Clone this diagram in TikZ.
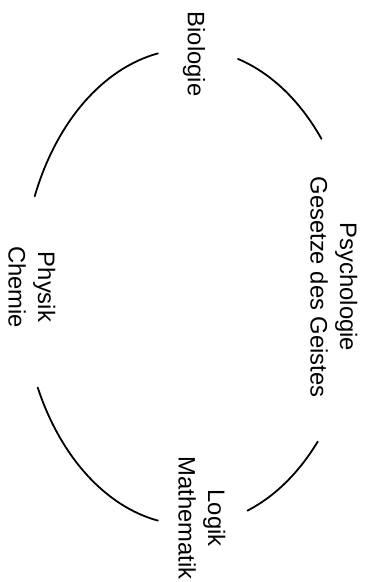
\documentclass[tikz,border=0pt]{standalone}
\usepackage{fontspec}
\setmainfont{Liberation Sans}
\usetikzlibrary{calc}
\begin{document}
\begin{tikzpicture}[x=1pt,y=1pt,
  lbl/.style={rotate=-90, align=center, font=\fontsize{23.8}{29.5}\selectfont, inner sep=0pt},
  arcline/.style={line width=1.8pt, line cap=round}]
\useasboundingbox (0,0) rectangle (366,-582);
\coordinate (c) at (190,-287);
\node[lbl] (bio) at (194,-54) {Biologie};
\node[lbl] (psy) at (334,-287) {Psychologie\\Gesetze des Geistes};
\node[lbl] (phy) at (32,-287) {Physik\\Chemie};
\node[lbl] (log) at (202,-518) {Logik\\Mathematik};
\coordinate (tl) at ($(c)+(101:168pt and 238pt)$);
\coordinate (tr) at ($(c)+(73.4:168pt and 238pt)$);
\coordinate (bl) at ($(c)+(205:168pt and 238pt)$);
\coordinate (br) at ($(c)+(319.5:168pt and 238pt)$);
\draw[arcline] (tl) arc[start angle=101, end angle=157.6, x radius=168pt, y radius=238pt];
\draw[arcline] (tr) arc[start angle=73.4, end angle=38.5, x radius=168pt, y radius=238pt];
\draw[arcline] (bl) arc[start angle=205, end angle=259, x radius=168pt, y radius=238pt];
\draw[arcline] (br) arc[start angle=319.5, end angle=290, x radius=168pt, y radius=238pt];
\end{tikzpicture}
\end{document}
